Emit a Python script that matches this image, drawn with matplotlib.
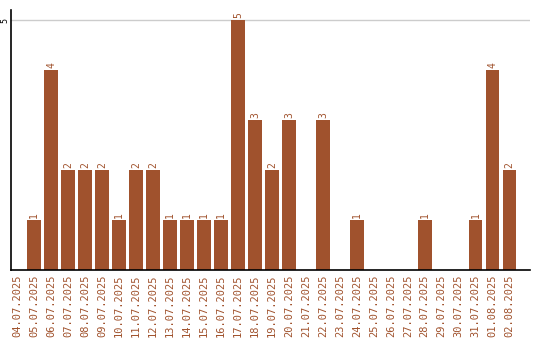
import numpy as np
import matplotlib
matplotlib.use('Agg')
import matplotlib.pyplot as plt

# Data
dates = ['04.07.2025', '05.07.2025', '06.07.2025', '07.07.2025', '08.07.2025',
         '09.07.2025', '10.07.2025', '11.07.2025', '12.07.2025', '13.07.2025',
         '14.07.2025', '15.07.2025', '16.07.2025', '17.07.2025', '18.07.2025',
         '19.07.2025', '20.07.2025', '21.07.2025', '22.07.2025', '23.07.2025',
         '24.07.2025', '25.07.2025', '26.07.2025', '27.07.2025', '28.07.2025',
         '29.07.2025', '30.07.2025', '31.07.2025', '01.08.2025', '02.08.2025']
counts = [0, 1, 4, 2, 2, 2, 1, 2, 2, 1, 1, 1, 1, 5, 3, 2, 3, 0, 3, 0,
          1, 0, 0, 0, 1, 0, 0, 1, 4, 2]

col = '#a0522d'
fig = plt.figure(figsize=(5.4, 3.4), dpi=100)
ax = fig.add_axes([10.5/540, 70/340, 519.5/540, 260/340])

x = np.arange(len(dates))
ax.bar(x, counts, width=0.8, color=col, zorder=2)
for xi, v in zip(x, counts):
    if v > 0:
        ax.text(xi, v + 0.04, str(v), rotation=90, ha='center', va='bottom',
                color=col, fontsize=7, family='DejaVu Sans Mono')

ax.set_xlim(-0.4, 30.2)
ax.set_ylim(0, 5.2)
ax.axhline(5, color='#cccccc', lw=1, zorder=1)
ax.set_yticks([5])
ax.set_yticklabels(['5'], rotation=90, va='center', fontsize=6,
                   family='DejaVu Sans Mono')
ax.tick_params(axis='y', length=0, pad=1)
ax.set_xticks(x)
ax.set_xticklabels(dates, rotation=90, color=col, fontsize=7.5,
                   family='DejaVu Sans Mono')
ax.tick_params(axis='x', length=0, pad=3)
for s in ['top', 'right']:
    ax.spines[s].set_visible(False)
ax.spines['left'].set_linewidth(1.2)
ax.spines['bottom'].set_linewidth(1.2)

plt.savefig('out.png', dpi=100)
